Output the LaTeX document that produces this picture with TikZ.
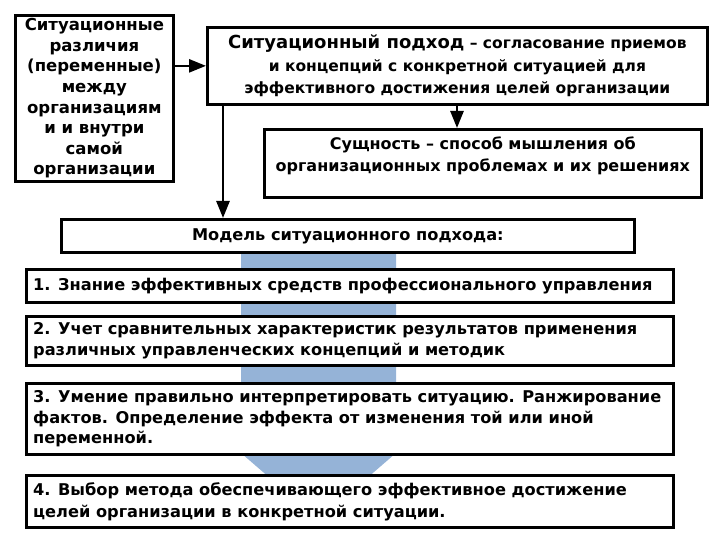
\documentclass[tikz,border=0pt]{standalone}
\usepackage{fontspec}
\setmainfont{DejaVu Sans}
\usetikzlibrary{arrows.meta}
\definecolor{shaftblue}{HTML}{95B3D7}
\begin{document}
\begin{tikzpicture}[x=1pt,y=-1pt,
  box/.style={draw=black, line width=2.7pt, fill=white, inner sep=0pt, anchor=north west},
  conn/.style={line width=2.6pt, -{Triangle[length=17pt,width=13pt]}},
  toptext/.style={font=\bfseries\fontsize{16.5}{20.6}\selectfont, align=center, inner sep=0pt},
  lowtext/.style={font=\bfseries\fontsize{16.2}{20.5}\selectfont, align=left, inner sep=0pt, anchor=west}]
\useasboundingbox (0,0) rectangle (720,540);
% blue arrow behind the model boxes
\fill[shaftblue] (241,251) -- (396,251) -- (396,453) -- (318.5,520) -- (241,453) -- cycle;
% boxes
\node[box, minimum width=158pt, minimum height=166pt] (a) at (14,14) {};
\node[box, minimum width=500pt, minimum height=77pt] (b) at (206,26) {};
\node[box, minimum width=437pt, minimum height=68pt] (c) at (263,128) {};
\node[box, minimum width=573pt, minimum height=33pt] (d) at (60,218) {};
\node[box, minimum width=647pt, minimum height=33pt] (m1) at (25,268) {};
\node[box, minimum width=647pt, minimum height=49pt] (m2) at (25,315) {};
\node[box, minimum width=647pt, minimum height=71pt] (m3) at (25,382) {};
\node[box, minimum width=647pt, minimum height=52pt] (m4) at (25,474) {};
% texts
\node[toptext] (ta) at (a.center) {Ситуационные\\различия\\(переменные)\\между\\организациям\\и и внутри\\самой\\организации};
\node[toptext, font=\bfseries\fontsize{15.5}{22.5}\selectfont] (tb) at (b.center) {{\fontsize{18}{22.5}\selectfont Ситуационный подход} – согласование приемов\\и концепций с конкретной ситуацией для\\эффективного достижения целей организации};
\node[toptext, anchor=north, font=\bfseries\fontsize{16}{22}\selectfont] (tc) at ([yshift=-9pt]c.north) {Сущность – способ мышления об\\организационных проблемах и их решениях};
\node[lowtext, anchor=center] (td) at (d.center) {Модель ситуационного подхода:};
\node[lowtext] (t1) at ([xshift=8pt]m1.west) {1. Знание эффективных средств профессионального управления};
\node[lowtext] (t2) at ([xshift=8pt]m2.west) {2. Учет сравнительных характеристик результатов применения\\различных управленческих концепций и методик};
\node[lowtext] (t3) at ([xshift=8pt]m3.west) {3. Умение правильно интерпретировать ситуацию. Ранжирование\\фактов. Определение эффекта от изменения той или иной\\переменной.};
\node[lowtext, font=\bfseries\fontsize{16.2}{22}\selectfont] (t4) at ([xshift=8pt]m4.west) {4. Выбор метода обеспечивающего эффективное достижение\\целей организации в конкретной ситуации.};
% connectors
\draw[conn] (a.east |- b.west) -- (b.west);
\draw[conn] ([xshift=251pt]b.south west) -- ([xshift=251pt]b.south west |- c.north);
\draw[conn] ([xshift=17pt]b.south west) -- ([xshift=17pt]b.south west |- d.north);
\end{tikzpicture}
\end{document}
